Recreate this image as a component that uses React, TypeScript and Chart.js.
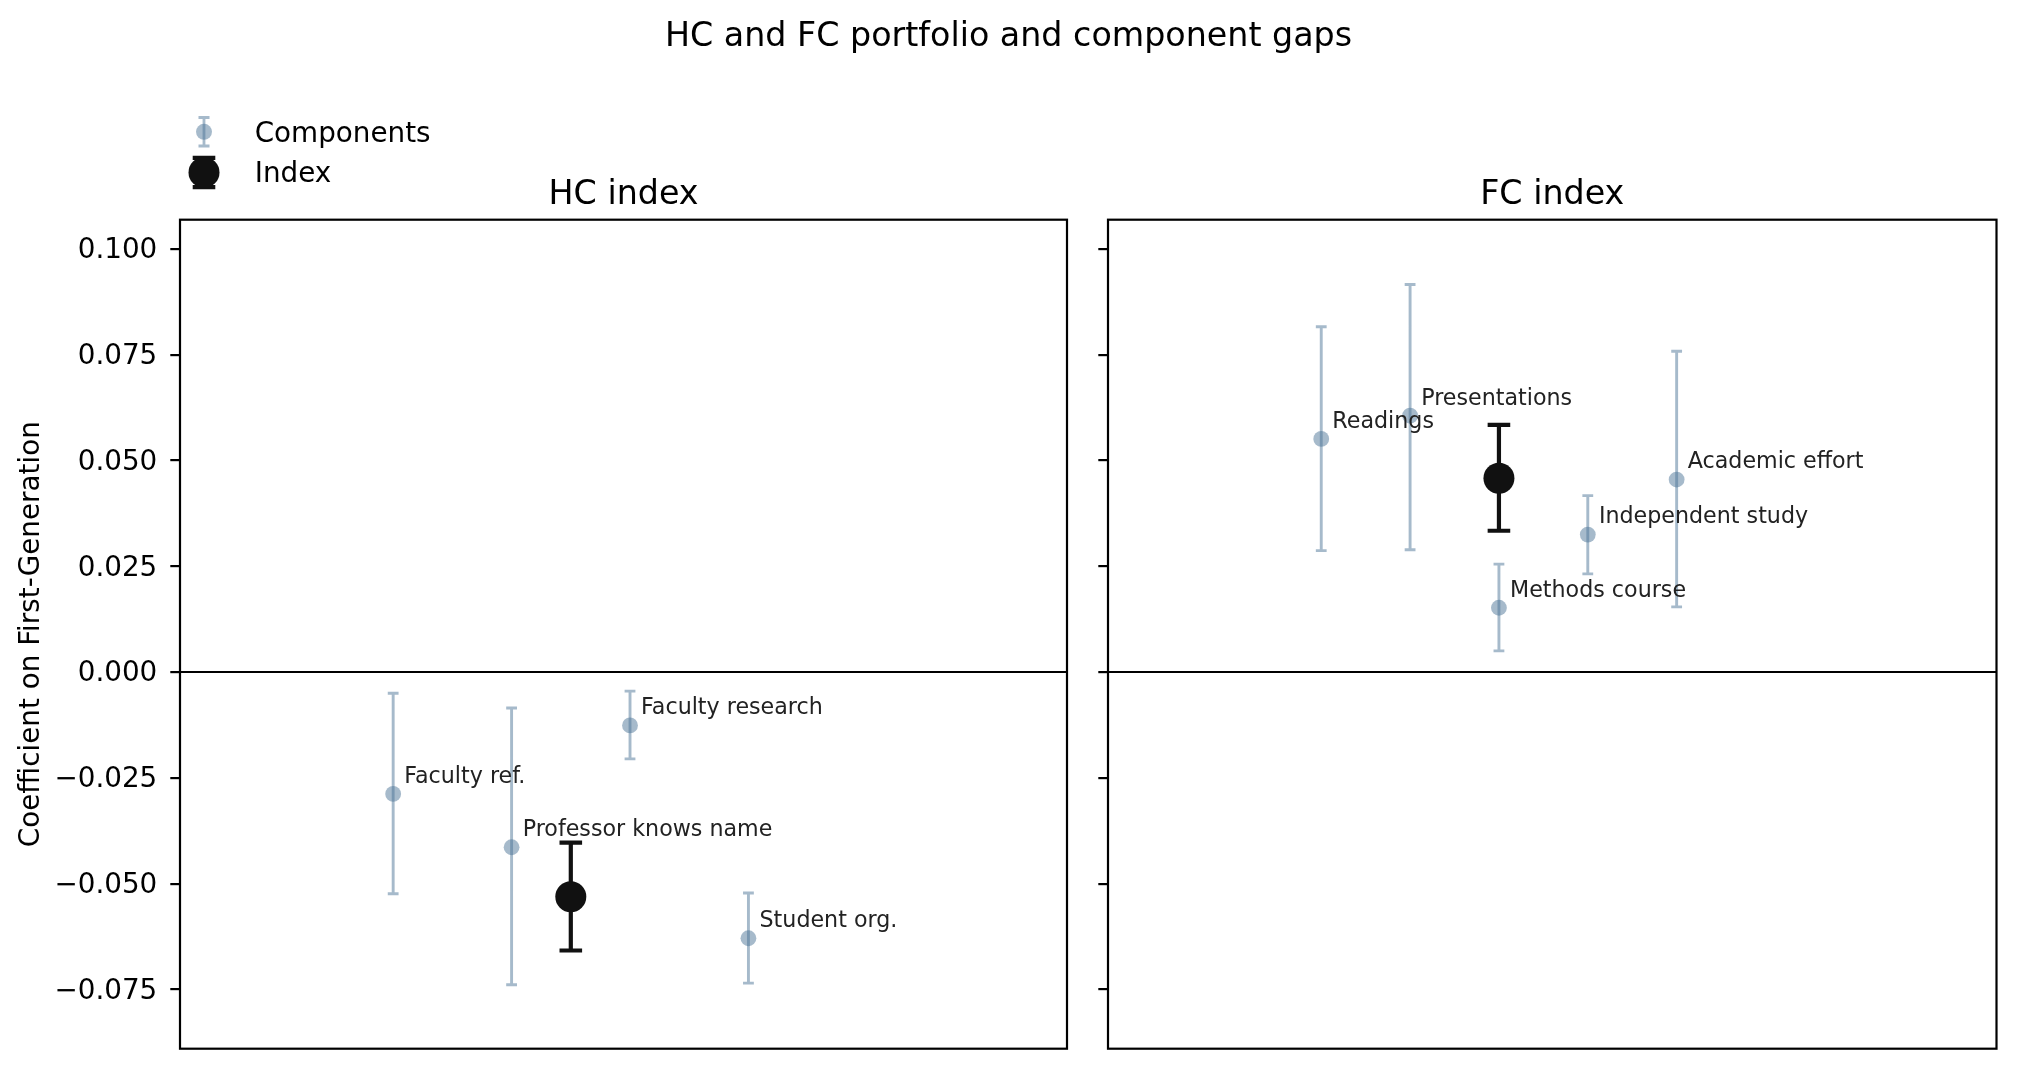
import React, { useEffect, useRef } from "react";
import { Chart, registerables } from "chart.js";

Chart.register(...registerables);

const W = 2017;
const H = 1069;
const FONT = "'DejaVu Sans', sans-serif";

// ---------------- data ----------------
const suptitleText = "HC and FC portfolio and component gaps";
const yAxisTitle = "Coefficient on First-Generation";
const legendLabels = ["Components", "Index"];
const yTickValues = [-0.075, -0.05, -0.025, 0, 0.025, 0.05, 0.075, 0.1];

const hcTitle = "HC index";
const hcComponentLabels = ["Faculty ref.", "Professor knows name", "Faculty research", "Student org."];
const hcComponentPositions = [0, 1, 2, 3];
const hcComponentCoefs = [-0.0288, -0.0414, -0.0126, -0.0629];
const hcComponentLows = [-0.0524, -0.0739, -0.0205, -0.0735];
const hcComponentHighs = [-0.005, -0.0085, -0.0045, -0.0522];
const hcIndexPosition = [1.5];
const hcIndexCoef = [-0.0531];
const hcIndexLow = [-0.0658];
const hcIndexHigh = [-0.0403];

const fcTitle = "FC index";
const fcComponentLabels = ["Readings", "Presentations", "Methods course", "Independent study", "Academic effort"];
const fcComponentPositions = [0, 1, 2, 3, 4];
const fcComponentCoefs = [0.0551, 0.0606, 0.0152, 0.0325, 0.0455];
const fcComponentLows = [0.0287, 0.0289, 0.005, 0.0232, 0.0154];
const fcComponentHighs = [0.0816, 0.0916, 0.0255, 0.0417, 0.0758];
const fcIndexPosition = [2];
const fcIndexCoef = [0.0458];
const fcIndexLow = [0.0334];
const fcIndexHigh = [0.0584];

// ---------------- style ----------------
const COMP_COLOR = "rgba(77,117,151,0.5)";
const INDEX_COLOR = "#111111";
const Y_MIN = -0.089;
const Y_MAX = 0.1069;
const AREA_TOP = 219.7;
const AREA_BOTTOM = 1048.7;
const TITLE_PAD_BOTTOM = 4;
const TITLE_LINE = 33.3 * 1.2;

function fmtTick(v: number): string {
  const s = Math.abs(v).toFixed(3);
  return v < -1e-12 ? "\u2212" + s : s;
}

type PanelDef = {
  title: string;
  labels: string[];
  pos: number[];
  coef: number[];
  low: number[];
  high: number[];
  iPos: number[];
  iCoef: number[];
  iLow: number[];
  iHigh: number[];
  isLeft: boolean;
  xMin: number;
  xMax: number;
};

const errorBarPlugin = {
  id: "errorBars",
  beforeDatasetDraw(chart: any, args: any) {
    const ds: any = chart.data.datasets[args.index];
    if (!ds.errLow) return;
    const ctx = chart.ctx;
    const xs = chart.scales.x;
    const ys = chart.scales.y;
    ctx.save();
    ctx.strokeStyle = ds.errColor;
    ctx.lineWidth = ds.errWidth;
    ctx.lineCap = "butt";
    ctx.beginPath();
    ds.data.forEach((p: any, i: number) => {
      const px = xs.getPixelForValue(p.x);
      const yl = ys.getPixelForValue(ds.errLow[i]);
      const yh = ys.getPixelForValue(ds.errHigh[i]);
      const c = ds.errCap;
      ctx.moveTo(px, yl);
      ctx.lineTo(px, yh);
      ctx.moveTo(px - c, yl);
      ctx.lineTo(px + c, yl);
      ctx.moveTo(px - c, yh);
      ctx.lineTo(px + c, yh);
    });
    ctx.stroke();
    ctx.restore();
  },
};

const axesDecorPlugin = {
  id: "axesDecor",
  beforeDatasetsDraw(chart: any) {
    const { ctx, chartArea } = chart;
    const y0 = chart.scales.y.getPixelForValue(0);
    ctx.save();
    ctx.strokeStyle = "#000";
    ctx.lineWidth = 2;
    ctx.beginPath();
    ctx.moveTo(chartArea.left, y0);
    ctx.lineTo(chartArea.right, y0);
    ctx.stroke();
    ctx.restore();
  },
  afterDatasetsDraw(chart: any) {
    const { ctx } = chart;
    const ds: any = chart.data.datasets[0];
    const xs = chart.scales.x;
    const ys = chart.scales.y;
    ctx.save();
    ctx.font = `22.2px ${FONT}`;
    ctx.fillStyle = "#222222";
    ctx.textAlign = "left";
    ctx.textBaseline = "alphabetic";
    ds.data.forEach((p: any, i: number) => {
      const px = xs.getPixelForValue(p.x);
      const py = ys.getPixelForValue(p.y);
      ctx.fillText(ds.pointLabels[i], px + 11.1, py - 11.1);
    });
    ctx.restore();
  },
  afterDraw(chart: any) {
    const { ctx, chartArea } = chart;
    ctx.save();
    ctx.strokeStyle = "#000";
    ctx.lineWidth = 2.2;
    ctx.strokeRect(chartArea.left, chartArea.top, chartArea.right - chartArea.left, chartArea.bottom - chartArea.top);
    ctx.restore();
  },
};

const figurePlugin = {
  id: "figureDecor",
  afterDraw(chart: any) {
    const ctx = chart.ctx;
    ctx.save();
    // suptitle
    ctx.font = `33.3px ${FONT}`;
    ctx.fillStyle = "#000";
    ctx.textAlign = "center";
    ctx.textBaseline = "alphabetic";
    ctx.fillText(suptitleText, W / 2, 45.5);

    // legend
    const ix = 204;
    // components icon
    ctx.strokeStyle = COMP_COLOR;
    ctx.lineWidth = 2.8;
    ctx.beginPath();
    ctx.moveTo(ix, 117.5);
    ctx.lineTo(ix, 146);
    ctx.moveTo(ix - 5.5, 117.5);
    ctx.lineTo(ix + 5.5, 117.5);
    ctx.moveTo(ix - 5.5, 146);
    ctx.lineTo(ix + 5.5, 146);
    ctx.stroke();
    ctx.fillStyle = COMP_COLOR;
    ctx.beginPath();
    ctx.arc(ix, 131.8, 8, 0, Math.PI * 2);
    ctx.fill();
    // index icon
    ctx.strokeStyle = INDEX_COLOR;
    ctx.lineWidth = 4.2;
    ctx.beginPath();
    ctx.moveTo(ix, 157.8);
    ctx.lineTo(ix, 187.2);
    ctx.moveTo(ix - 11.3, 157.8);
    ctx.lineTo(ix + 11.3, 157.8);
    ctx.moveTo(ix - 11.3, 187.2);
    ctx.lineTo(ix + 11.3, 187.2);
    ctx.stroke();
    ctx.fillStyle = INDEX_COLOR;
    ctx.beginPath();
    ctx.arc(ix, 172.4, 15.5, 0, Math.PI * 2);
    ctx.fill();

    ctx.font = `27.8px ${FONT}`;
    ctx.fillStyle = "#000";
    ctx.textAlign = "left";
    ctx.fillText(legendLabels[0], 254.7, 142.3);
    ctx.fillText(legendLabels[1], 254.7, 182.3);
    ctx.restore();
  },
};

function buildConfig(p: PanelDef): any {
  const top = AREA_TOP - TITLE_LINE - TITLE_PAD_BOTTOM;
  const padding = p.isLeft
    ? { left: 0, right: W - 1067, top, bottom: H - AREA_BOTTOM }
    : { left: 1088, right: W - 1996.5, top, bottom: H - AREA_BOTTOM };
  const yWidth = p.isLeft ? 180 : 20;
  return {
    type: "scatter",
    data: {
      datasets: [
        {
          label: legendLabels[0],
          data: p.pos.map((x, i) => ({ x, y: p.coef[i] })),
          errLow: p.low,
          errHigh: p.high,
          errColor: COMP_COLOR,
          errWidth: 2.9,
          errCap: 5.4,
          pointLabels: p.labels,
          pointRadius: 7.9,
          pointHoverRadius: 7.9,
          backgroundColor: COMP_COLOR,
          borderWidth: 0,
          order: 2,
        },
        {
          label: legendLabels[1],
          data: p.iPos.map((x, i) => ({ x, y: p.iCoef[i] })),
          errLow: p.iLow,
          errHigh: p.iHigh,
          errColor: INDEX_COLOR,
          errWidth: 4.2,
          errCap: 11.3,
          pointRadius: 15.5,
          pointHoverRadius: 15.5,
          backgroundColor: INDEX_COLOR,
          borderWidth: 0,
          order: 1,
        },
      ],
    },
    options: {
      responsive: false,
      animation: false,
      devicePixelRatio: 1,
      events: [],
      layout: { padding },
      plugins: {
        legend: { display: false },
        tooltip: { enabled: false },
        title: {
          display: true,
          text: p.title,
          fullSize: false,
          color: "#000",
          font: { family: FONT, size: 33.3, weight: "normal", lineHeight: 1.2 },
          padding: { top: 0, bottom: TITLE_PAD_BOTTOM },
        },
      },
      scales: {
        x: {
          type: "linear",
          display: false,
          min: p.xMin,
          max: p.xMax,
        },
        y: {
          type: "linear",
          min: Y_MIN,
          max: Y_MAX,
          afterBuildTicks: (axis: any) => {
            axis.ticks = yTickValues.map((v) => ({ value: v }));
          },
          afterFit: (axis: any) => {
            axis.width = yWidth;
            axis.paddingTop = 0;
            axis.paddingBottom = 0;
          },
          border: { display: false },
          grid: {
            drawOnChartArea: false,
            drawTicks: true,
            tickLength: 9.7,
            tickWidth: 2.2,
            tickColor: "#000",
            color: "#000",
            lineWidth: 2.2,
          },
          ticks: {
            display: p.isLeft,
            autoSkip: false,
            padding: 13,
            labelOffset: 2,
            color: "#000",
            font: { family: FONT, size: 27.8 },
            callback: (v: any) => fmtTick(Number(v)),
          },
          title: {
            display: p.isLeft,
            text: yAxisTitle,
            color: "#000",
            font: { family: FONT, size: 27.8, lineHeight: 1.2 },
            padding: { top: 15.4, bottom: 0 },
          },
        },
      },
    },
    plugins: p.isLeft ? [errorBarPlugin, axesDecorPlugin, figurePlugin] : [errorBarPlugin, axesDecorPlugin],
  };
}

const hcPanel: PanelDef = {
  title: hcTitle,
  labels: hcComponentLabels,
  pos: hcComponentPositions,
  coef: hcComponentCoefs,
  low: hcComponentLows,
  high: hcComponentHighs,
  iPos: hcIndexPosition,
  iCoef: hcIndexCoef,
  iLow: hcIndexLow,
  iHigh: hcIndexHigh,
  isLeft: true,
  xMin: -1.8,
  xMax: 5.69,
};

const fcPanel: PanelDef = {
  title: fcTitle,
  labels: fcComponentLabels,
  pos: fcComponentPositions,
  coef: fcComponentCoefs,
  low: fcComponentLows,
  high: fcComponentHighs,
  iPos: fcIndexPosition,
  iCoef: fcIndexCoef,
  iLow: fcIndexLow,
  iHigh: fcIndexHigh,
  isLeft: false,
  xMin: -2.4,
  xMax: 7.6,
};

export default function App() {
  const leftRef = useRef<HTMLCanvasElement | null>(null);
  const rightRef = useRef<HTMLCanvasElement | null>(null);

  useEffect(() => {
    const charts: Chart[] = [];
    if (leftRef.current) charts.push(new Chart(leftRef.current, buildConfig(hcPanel)));
    if (rightRef.current) charts.push(new Chart(rightRef.current, buildConfig(fcPanel)));
    return () => {
      charts.forEach((c) => c.destroy());
    };
  }, []);

  return (
    <div style={{ position: "fixed", left: 0, top: 0, width: W, height: H, background: "#fff" }}>
      <canvas ref={leftRef} width={W} height={H} style={{ position: "absolute", left: 0, top: 0 }} />
      <canvas ref={rightRef} width={W} height={H} style={{ position: "absolute", left: 0, top: 0 }} />
    </div>
  );
}
